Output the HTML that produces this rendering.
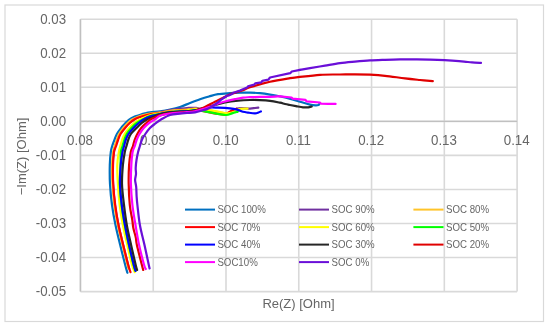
<!DOCTYPE html>
<html><head><meta charset="utf-8"><style>
html,body{margin:0;padding:0;background:#fff;}
body{width:550px;height:327px;overflow:hidden;}
svg{display:block;will-change:transform;}
text{font-family:"Liberation Sans",sans-serif;fill:#666666;}
</style></head><body>
<svg width="550" height="327" viewBox="0 0 550 327">
<rect x="0" y="0" width="550" height="327" fill="#fff"/>
<rect x="5" y="5" width="538.5" height="316.5" fill="none" stroke="#d9d9d9" stroke-width="1.2"/>

<g stroke="#d9d9d9" stroke-width="1.6"><line x1="80.45" y1="19.20" x2="80.45" y2="291.60"/><line x1="153.23" y1="19.20" x2="153.23" y2="291.60"/><line x1="226.00" y1="19.20" x2="226.00" y2="291.60"/><line x1="298.78" y1="19.20" x2="298.78" y2="291.60"/><line x1="371.55" y1="19.20" x2="371.55" y2="291.60"/><line x1="444.32" y1="19.20" x2="444.32" y2="291.60"/><line x1="517.10" y1="19.20" x2="517.10" y2="291.60"/><line x1="80.45" y1="19.20" x2="517.10" y2="19.20"/><line x1="80.45" y1="53.25" x2="517.10" y2="53.25"/><line x1="80.45" y1="87.30" x2="517.10" y2="87.30"/><line x1="80.45" y1="121.35" x2="517.10" y2="121.35"/><line x1="80.45" y1="155.40" x2="517.10" y2="155.40"/><line x1="80.45" y1="189.45" x2="517.10" y2="189.45"/><line x1="80.45" y1="223.50" x2="517.10" y2="223.50"/><line x1="80.45" y1="257.55" x2="517.10" y2="257.55"/><line x1="80.45" y1="291.60" x2="517.10" y2="291.60"/></g>
<g stroke="#c0c0c0" stroke-width="1.4"><line x1="80.45" y1="19.20" x2="80.45" y2="291.60"/><line x1="80.45" y1="121.35" x2="517.10" y2="121.35"/></g>
<g font-size="14"><text x="66.1" y="23.65" text-anchor="end" textLength="25.89" lengthAdjust="spacingAndGlyphs">0.03</text><text x="66.1" y="57.70" text-anchor="end" textLength="25.89" lengthAdjust="spacingAndGlyphs">0.02</text><text x="66.1" y="91.75" text-anchor="end" textLength="25.89" lengthAdjust="spacingAndGlyphs">0.01</text><text x="66.1" y="125.80" text-anchor="end" textLength="25.89" lengthAdjust="spacingAndGlyphs">0.00</text><text x="66.1" y="159.85" text-anchor="end" textLength="30.31" lengthAdjust="spacingAndGlyphs">-0.01</text><text x="66.1" y="193.90" text-anchor="end" textLength="30.31" lengthAdjust="spacingAndGlyphs">-0.02</text><text x="66.1" y="227.95" text-anchor="end" textLength="30.31" lengthAdjust="spacingAndGlyphs">-0.03</text><text x="66.1" y="262.00" text-anchor="end" textLength="30.31" lengthAdjust="spacingAndGlyphs">-0.04</text><text x="66.1" y="296.05" text-anchor="end" textLength="30.31" lengthAdjust="spacingAndGlyphs">-0.05</text></g>
<g font-size="14"><text x="80.05" y="144.9" text-anchor="middle" textLength="25.89" lengthAdjust="spacingAndGlyphs">0.08</text><text x="152.83" y="144.9" text-anchor="middle" textLength="25.89" lengthAdjust="spacingAndGlyphs">0.09</text><text x="225.60" y="144.9" text-anchor="middle" textLength="25.89" lengthAdjust="spacingAndGlyphs">0.10</text><text x="298.38" y="144.9" text-anchor="middle" textLength="24.90" lengthAdjust="spacingAndGlyphs">0.11</text><text x="371.15" y="144.9" text-anchor="middle" textLength="25.89" lengthAdjust="spacingAndGlyphs">0.12</text><text x="443.93" y="144.9" text-anchor="middle" textLength="25.89" lengthAdjust="spacingAndGlyphs">0.13</text><text x="516.70" y="144.9" text-anchor="middle" textLength="25.89" lengthAdjust="spacingAndGlyphs">0.14</text></g>
<text x="298.5" y="307.7" text-anchor="middle" font-size="13">Re(Z) [Ohm]</text>
<text transform="translate(25.8,156.5) rotate(-90)" text-anchor="middle" font-size="13">−Im(Z) [Ohm]</text>
<line x1="185" y1="209.60" x2="215" y2="209.60" stroke="#0070C0" stroke-width="2"/>
<text x="217.4" y="213.10" font-size="11" textLength="48.42" lengthAdjust="spacingAndGlyphs">SOC 100%</text>
<line x1="299" y1="209.60" x2="329" y2="209.60" stroke="#7030A0" stroke-width="2"/>
<text x="331.6" y="213.10" font-size="11" textLength="43.04" lengthAdjust="spacingAndGlyphs">SOC 90%</text>
<line x1="413.4" y1="209.60" x2="443.5" y2="209.60" stroke="#FFC42A" stroke-width="2"/>
<text x="446" y="213.10" font-size="11" textLength="43.04" lengthAdjust="spacingAndGlyphs">SOC 80%</text>
<line x1="185" y1="227.10" x2="215" y2="227.10" stroke="#FF0000" stroke-width="2"/>
<text x="217.4" y="230.60" font-size="11" textLength="43.04" lengthAdjust="spacingAndGlyphs">SOC 70%</text>
<line x1="299" y1="227.10" x2="329" y2="227.10" stroke="#FFFF00" stroke-width="2"/>
<text x="331.6" y="230.60" font-size="11" textLength="43.04" lengthAdjust="spacingAndGlyphs">SOC 60%</text>
<line x1="413.4" y1="227.10" x2="443.5" y2="227.10" stroke="#00FF00" stroke-width="2"/>
<text x="446" y="230.60" font-size="11" textLength="43.04" lengthAdjust="spacingAndGlyphs">SOC 50%</text>
<line x1="185" y1="244.60" x2="215" y2="244.60" stroke="#0000FF" stroke-width="2"/>
<text x="217.4" y="248.10" font-size="11" textLength="43.04" lengthAdjust="spacingAndGlyphs">SOC 40%</text>
<line x1="299" y1="244.60" x2="329" y2="244.60" stroke="#262626" stroke-width="2"/>
<text x="331.6" y="248.10" font-size="11" textLength="43.04" lengthAdjust="spacingAndGlyphs">SOC 30%</text>
<line x1="413.4" y1="244.60" x2="443.5" y2="244.60" stroke="#E00000" stroke-width="2"/>
<text x="446" y="248.10" font-size="11" textLength="43.04" lengthAdjust="spacingAndGlyphs">SOC 20%</text>
<line x1="185" y1="262.10" x2="215" y2="262.10" stroke="#FF00FF" stroke-width="2"/>
<text x="217.4" y="265.60" font-size="11" textLength="40.35" lengthAdjust="spacingAndGlyphs">SOC10%</text>
<line x1="299" y1="262.10" x2="329" y2="262.10" stroke="#6A0FD8" stroke-width="2"/>
<text x="331.6" y="265.60" font-size="11" textLength="37.66" lengthAdjust="spacingAndGlyphs">SOC 0%</text>
<g fill="none" stroke-width="2.2" stroke-linejoin="round" stroke-linecap="round">
<path stroke="#0070C0" d="M127.40,272.80 C127.03,271.50 126.40,269.63 125.20,265.00 C124.00,260.37 121.82,251.67 120.20,245.00 C118.58,238.33 116.87,231.67 115.50,225.00 C114.13,218.33 112.92,211.83 112.00,205.00 C111.08,198.17 110.37,190.67 110.00,184.00 C109.63,177.33 109.67,170.33 109.80,165.00 C109.93,159.67 110.40,155.17 110.80,152.00 C111.20,148.83 111.60,148.00 112.20,146.00 C112.80,144.00 113.62,142.00 114.40,140.00 C115.18,138.00 115.77,136.00 116.90,134.00 C118.03,132.00 120.15,129.42 121.20,128.00 C122.25,126.58 122.52,126.30 123.20,125.50 C123.88,124.70 124.50,124.03 125.30,123.20 C126.10,122.37 127.12,121.27 128.00,120.50 C128.88,119.73 129.72,119.15 130.60,118.60 C131.48,118.05 132.35,117.63 133.30,117.20 C134.25,116.77 135.13,116.42 136.30,116.00 C137.47,115.58 138.85,115.13 140.30,114.70 C141.75,114.27 143.38,113.80 145.00,113.40 C146.62,113.00 147.50,112.65 150.00,112.30 C152.50,111.95 156.67,111.75 160.00,111.30 C163.33,110.85 166.67,110.32 170.00,109.60 C173.33,108.88 176.67,108.10 180.00,107.00 C183.33,105.90 186.67,104.28 190.00,103.00 C193.33,101.72 196.83,100.38 200.00,99.30 C203.17,98.22 206.00,97.35 209.00,96.50 C212.00,95.65 214.50,94.75 218.00,94.20 C221.50,93.65 226.33,93.45 230.00,93.20 C233.67,92.95 236.67,92.80 240.00,92.70 C243.33,92.60 246.67,92.52 250.00,92.60 C253.33,92.68 256.67,92.87 260.00,93.20 C263.33,93.53 265.83,93.90 270.00,94.60 C274.17,95.30 280.00,96.22 285.00,97.40 C290.00,98.58 295.83,100.50 300.00,101.70 C304.17,102.90 307.42,103.98 310.00,104.60 C312.58,105.22 314.08,105.33 315.50,105.40 C316.92,105.47 317.83,105.27 318.50,105.00 C319.17,104.73 319.33,104.00 319.50,103.80"/>
<path stroke="#7030A0" d="M129.10,268.50 C128.95,267.97 129.18,269.17 128.20,265.30 C127.22,261.43 124.82,251.97 123.20,245.30 C121.58,238.63 119.87,231.97 118.50,225.30 C117.13,218.63 115.90,212.13 115.00,205.30 C114.10,198.47 113.48,190.97 113.10,184.30 C112.72,177.63 112.58,170.63 112.70,165.30 C112.82,159.97 113.37,155.47 113.80,152.30 C114.23,149.13 114.70,148.30 115.30,146.30 C115.90,144.30 116.67,142.30 117.40,140.30 C118.13,138.30 118.60,136.30 119.70,134.30 C120.80,132.30 122.54,130.13 124.00,128.30 C125.46,126.47 126.97,124.72 128.43,123.30 C129.90,121.88 131.18,120.80 132.80,119.80 C134.42,118.80 136.30,118.05 138.17,117.30 C140.03,116.55 141.87,115.84 143.99,115.30 C146.11,114.76 148.09,114.60 150.88,114.05 C153.66,113.50 157.51,112.68 160.70,112.00 C163.89,111.32 166.78,110.55 170.00,110.00 C173.22,109.45 177.17,109.03 180.00,108.70 C182.83,108.37 184.33,108.13 187.00,108.00 C189.67,107.87 193.00,107.57 196.00,107.90 C199.00,108.23 201.82,109.32 205.00,110.00 C208.18,110.68 211.56,111.42 215.10,112.00 C218.64,112.58 223.25,113.75 226.23,113.50 C229.22,113.25 230.73,111.38 233.03,110.50 C235.32,109.62 237.17,108.52 240.00,108.20 C242.83,107.88 247.50,108.63 250.00,108.60 C252.50,108.57 253.62,108.17 255.00,108.00 C256.38,107.83 257.75,107.67 258.30,107.60"/>
<path stroke="#FFC42A" d="M128.50,268.50 C128.35,267.92 128.58,268.92 127.60,265.00 C126.62,261.08 124.22,251.67 122.60,245.00 C120.98,238.33 119.27,231.67 117.90,225.00 C116.53,218.33 115.30,211.83 114.40,205.00 C113.50,198.17 112.88,190.67 112.50,184.00 C112.12,177.33 111.98,170.33 112.10,165.00 C112.22,159.67 112.77,155.17 113.20,152.00 C113.63,148.83 114.10,148.00 114.70,146.00 C115.30,144.00 116.07,142.00 116.80,140.00 C117.53,138.00 118.00,136.00 119.10,134.00 C120.20,132.00 121.95,129.83 123.40,128.00 C124.85,126.17 126.36,124.42 127.82,123.00 C129.29,121.58 130.57,120.50 132.19,119.50 C133.81,118.50 135.68,117.75 137.54,117.00 C139.41,116.25 141.25,115.55 143.37,115.00 C145.48,114.45 147.46,114.11 150.25,113.71 C153.04,113.31 156.83,113.08 160.13,112.60 C163.43,112.12 166.73,111.23 170.04,110.80 C173.35,110.37 177.17,110.20 180.00,110.00 C182.83,109.80 184.50,109.83 187.00,109.60 C189.50,109.37 192.00,108.62 195.00,108.60 C198.00,108.58 201.65,109.02 205.00,109.50 C208.35,109.98 211.71,110.87 215.07,111.50 C218.44,112.13 222.38,113.30 225.22,113.30 C228.05,113.30 229.94,112.13 232.07,111.50 C234.21,110.87 237.01,109.83 238.00,109.50"/>
<path stroke="#FF0000" d="M130.50,272.20 C130.12,271.00 129.42,269.53 128.20,265.00 C126.98,260.47 124.82,251.67 123.20,245.00 C121.58,238.33 119.83,231.67 118.50,225.00 C117.17,218.33 116.08,211.83 115.20,205.00 C114.32,198.17 113.57,190.67 113.20,184.00 C112.83,177.33 112.87,170.33 113.00,165.00 C113.13,159.67 113.48,155.17 114.00,152.00 C114.52,148.83 115.43,148.00 116.10,146.00 C116.77,144.00 117.27,142.00 118.00,140.00 C118.73,138.00 119.32,136.00 120.50,134.00 C121.68,132.00 123.56,129.83 125.10,128.00 C126.64,126.17 128.08,124.50 129.75,123.00 C131.43,121.50 133.43,120.00 135.16,119.00 C136.89,118.00 137.63,117.78 140.12,117.00 C142.60,116.22 146.74,114.94 150.05,114.30 C153.37,113.67 156.68,113.65 160.00,113.20 C163.32,112.75 166.67,112.02 170.00,111.60 C173.33,111.18 177.17,110.90 180.00,110.70 C182.83,110.50 184.50,110.67 187.00,110.40 C189.50,110.13 192.25,108.95 195.00,109.10 C197.75,109.25 200.50,110.62 203.50,111.30 C206.50,111.98 209.65,112.65 213.00,113.20 C216.35,113.75 221.10,114.63 223.60,114.60 C226.10,114.57 226.60,113.70 228.00,113.00 C229.40,112.30 230.55,111.13 232.00,110.40 C233.45,109.67 235.92,108.90 236.70,108.60"/>
<path stroke="#FFFF00" d="M134.70,272.20 C134.25,271.00 133.23,269.53 132.00,265.00 C130.77,260.47 128.82,251.67 127.30,245.00 C125.78,238.33 124.17,231.67 122.90,225.00 C121.63,218.33 120.53,211.83 119.70,205.00 C118.87,198.17 118.30,190.67 117.90,184.00 C117.50,177.33 117.13,170.33 117.30,165.00 C117.47,159.67 118.40,155.17 118.90,152.00 C119.40,148.83 119.77,148.00 120.30,146.00 C120.83,144.00 121.38,142.00 122.10,140.00 C122.82,138.00 123.42,136.00 124.60,134.00 C125.78,132.00 127.56,129.83 129.20,128.00 C130.84,126.17 132.45,124.50 134.44,123.00 C136.42,121.50 138.50,120.28 141.12,119.00 C143.73,117.72 146.95,116.24 150.10,115.31 C153.25,114.37 156.68,114.03 160.00,113.40 C163.32,112.77 166.67,111.97 170.00,111.50 C173.33,111.03 177.17,110.80 180.00,110.60 C182.83,110.40 184.50,110.57 187.00,110.30 C189.50,110.03 191.50,109.08 195.00,109.00 C198.50,108.92 204.17,109.37 208.00,109.80 C211.83,110.23 214.83,111.02 218.00,111.60 C221.17,112.18 224.50,113.20 227.00,113.30 C229.50,113.40 231.42,112.62 233.00,112.20 C234.58,111.78 235.33,111.37 236.50,110.80 C237.67,110.23 238.15,109.17 240.00,108.80 C241.85,108.43 246.33,108.63 247.60,108.60"/>
<path stroke="#00FF00" d="M135.40,270.80 C135.10,269.83 134.68,269.30 133.60,265.00 C132.52,260.70 130.37,251.67 128.90,245.00 C127.43,238.33 126.02,231.67 124.80,225.00 C123.58,218.33 122.43,211.83 121.60,205.00 C120.77,198.17 119.98,190.67 119.80,184.00 C119.62,177.33 120.32,170.33 120.50,165.00 C120.68,159.67 120.57,155.17 120.90,152.00 C121.23,148.83 121.93,148.00 122.50,146.00 C123.07,144.00 123.60,142.00 124.30,140.00 C125.00,138.00 125.52,136.00 126.70,134.00 C127.88,132.00 129.72,129.83 131.40,128.00 C133.08,126.17 134.87,124.45 136.80,123.00 C138.73,121.55 140.80,120.47 143.00,119.30 C145.20,118.13 147.17,116.88 150.00,116.00 C152.83,115.12 156.67,114.65 160.00,114.00 C163.33,113.35 166.67,112.53 170.00,112.10 C173.33,111.67 177.17,111.55 180.00,111.40 C182.83,111.25 184.50,111.40 187.00,111.20 C189.50,111.00 192.00,110.17 195.00,110.20 C198.00,110.23 201.67,110.88 205.00,111.40 C208.33,111.92 211.50,112.70 215.00,113.30 C218.50,113.90 223.17,114.98 226.00,115.00 C228.83,115.02 230.03,113.97 232.00,113.40 C233.97,112.83 236.83,111.90 237.80,111.60"/>
<path stroke="#0000FF" d="M135.60,270.90 C135.30,269.92 134.88,269.32 133.80,265.00 C132.72,260.68 130.57,251.67 129.10,245.00 C127.63,238.33 126.22,231.67 125.00,225.00 C123.78,218.33 122.63,211.83 121.80,205.00 C120.97,198.17 120.18,190.67 120.00,184.00 C119.82,177.33 120.28,170.33 120.70,165.00 C121.12,159.67 121.93,155.17 122.50,152.00 C123.07,148.83 123.57,148.00 124.10,146.00 C124.63,144.00 124.97,142.00 125.70,140.00 C126.43,138.00 127.20,136.00 128.50,134.00 C129.80,132.00 131.78,129.83 133.50,128.00 C135.22,126.17 136.97,124.50 138.80,123.00 C140.63,121.50 142.63,120.08 144.50,119.00 C146.37,117.92 147.42,117.32 150.00,116.50 C152.58,115.68 156.67,114.82 160.00,114.10 C163.33,113.38 166.67,112.63 170.00,112.20 C173.33,111.77 177.17,111.65 180.00,111.50 C182.83,111.35 184.50,111.50 187.00,111.30 C189.50,111.10 191.67,110.90 195.00,110.30 C198.33,109.70 203.17,108.15 207.00,107.70 C210.83,107.25 214.17,107.50 218.00,107.60 C221.83,107.70 226.67,107.92 230.00,108.30 C233.33,108.68 235.83,109.32 238.00,109.90 C240.17,110.48 241.33,111.35 243.00,111.80 C244.67,112.25 246.00,112.35 248.00,112.60 C250.00,112.85 253.25,113.32 255.00,113.30 C256.75,113.28 257.52,112.82 258.50,112.50 C259.48,112.18 260.50,111.58 260.90,111.40"/>
<path stroke="#262626" d="M137.10,270.00 C136.87,269.17 136.70,269.17 135.70,265.00 C134.70,260.83 132.58,251.67 131.10,245.00 C129.62,238.33 127.98,231.67 126.80,225.00 C125.62,218.33 124.80,211.83 124.00,205.00 C123.20,198.17 122.18,190.67 122.00,184.00 C121.82,177.33 122.43,170.33 122.90,165.00 C123.37,159.67 124.20,155.17 124.80,152.00 C125.40,148.83 125.93,148.00 126.50,146.00 C127.07,144.00 127.47,142.00 128.20,140.00 C128.93,138.00 129.52,136.00 130.90,134.00 C132.28,132.00 134.68,129.83 136.50,128.00 C138.32,126.17 139.93,124.50 141.80,123.00 C143.67,121.50 146.00,119.92 147.70,119.00 C149.40,118.08 149.95,118.26 152.00,117.46 C154.05,116.66 157.00,115.06 160.00,114.20 C163.00,113.34 166.67,112.72 170.00,112.30 C173.33,111.88 177.17,111.83 180.00,111.70 C182.83,111.57 184.50,111.70 187.00,111.50 C189.50,111.30 192.00,111.17 195.00,110.50 C198.00,109.83 201.67,108.42 205.00,107.50 C208.33,106.58 211.67,105.83 215.00,105.00 C218.33,104.17 221.17,103.22 225.00,102.50 C228.83,101.78 233.83,101.12 238.00,100.70 C242.17,100.28 246.33,100.10 250.00,100.00 C253.67,99.90 256.67,99.97 260.00,100.10 C263.33,100.23 266.67,100.37 270.00,100.80 C273.33,101.23 277.50,102.17 280.00,102.70 C282.50,103.23 283.33,103.62 285.00,104.00 C286.67,104.38 288.17,104.65 290.00,105.00 C291.83,105.35 293.83,105.72 296.00,106.10 C298.17,106.48 301.17,107.08 303.00,107.30 C304.83,107.52 305.92,107.43 307.00,107.40 C308.08,107.37 308.72,107.25 309.50,107.10 C310.28,106.95 311.33,106.60 311.70,106.50"/>
<path stroke="#E00000" d="M143.20,270.00 C142.98,269.17 142.95,269.17 141.90,265.00 C140.85,260.83 137.90,249.50 136.90,245.00 C135.90,240.50 136.18,239.67 135.90,238.00 C135.62,236.33 135.55,236.33 135.20,235.00 C134.85,233.67 134.17,231.50 133.80,230.00 C133.43,228.50 133.25,227.67 133.00,226.00 C132.75,224.33 132.83,223.50 132.30,220.00 C131.77,216.50 130.40,211.00 129.80,205.00 C129.20,199.00 128.82,190.67 128.70,184.00 C128.58,177.33 128.75,170.33 129.10,165.00 C129.45,159.67 130.15,155.17 130.80,152.00 C131.45,148.83 132.37,148.00 133.00,146.00 C133.63,144.00 133.88,142.00 134.60,140.00 C135.32,138.00 136.20,136.00 137.30,134.00 C138.40,132.00 139.68,129.83 141.20,128.00 C142.72,126.17 144.85,124.44 146.40,123.00 C147.95,121.56 149.07,120.27 150.50,119.34 C151.93,118.41 153.42,118.06 155.00,117.40 C156.58,116.74 157.50,116.08 160.00,115.40 C162.50,114.72 166.67,113.77 170.00,113.30 C173.33,112.83 177.17,112.80 180.00,112.60 C182.83,112.40 184.50,112.37 187.00,112.10 C189.50,111.83 192.17,111.78 195.00,111.00 C197.83,110.22 201.50,108.52 204.00,107.40 C206.50,106.28 208.17,105.23 210.00,104.30 C211.83,103.37 213.33,102.63 215.00,101.80 C216.67,100.97 218.50,100.05 220.00,99.30 C221.50,98.55 222.67,97.97 224.00,97.30 C225.33,96.63 226.67,95.92 228.00,95.30 C229.33,94.68 229.50,94.45 232.00,93.60 C234.50,92.75 240.00,91.25 243.00,90.20 C246.00,89.15 245.50,88.70 250.00,87.30 C254.50,85.90 263.33,83.32 270.00,81.80 C276.67,80.28 285.33,78.97 290.00,78.20 C294.67,77.43 293.00,77.77 298.00,77.20 C303.00,76.63 313.00,75.25 320.00,74.80 C327.00,74.35 334.17,74.58 340.00,74.50 C345.83,74.42 350.00,74.27 355.00,74.30 C360.00,74.33 365.00,74.45 370.00,74.70 C375.00,74.95 379.17,75.18 385.00,75.80 C390.83,76.42 399.17,77.70 405.00,78.40 C410.83,79.10 415.37,79.53 420.00,80.00 C424.63,80.47 430.67,81.00 432.80,81.20"/>
<path stroke="#FF00FF" d="M145.80,269.00 C145.52,268.33 145.22,269.00 144.10,265.00 C142.98,261.00 140.53,251.67 139.10,245.00 C137.67,238.33 136.62,231.67 135.50,225.00 C134.38,218.33 133.17,211.83 132.40,205.00 C131.63,198.17 131.08,190.67 130.90,184.00 C130.72,177.33 131.02,170.33 131.30,165.00 C131.58,159.67 132.02,155.17 132.60,152.00 C133.18,148.83 134.13,148.00 134.80,146.00 C135.47,144.00 135.82,142.00 136.60,140.00 C137.38,138.00 138.32,136.00 139.50,134.00 C140.68,132.00 142.10,129.83 143.70,128.00 C145.30,126.17 147.22,124.43 149.10,123.00 C150.98,121.57 153.18,120.62 155.00,119.40 C156.82,118.18 157.50,116.68 160.00,115.70 C162.50,114.72 166.67,114.00 170.00,113.50 C173.33,113.00 177.17,112.92 180.00,112.70 C182.83,112.48 184.50,112.43 187.00,112.20 C189.50,111.97 192.00,111.92 195.00,111.30 C198.00,110.68 202.50,109.23 205.00,108.50 C207.50,107.77 207.83,107.73 210.00,106.90 C212.17,106.07 215.50,104.40 218.00,103.50 C220.50,102.60 222.17,102.22 225.00,101.50 C227.83,100.78 232.00,99.85 235.00,99.20 C238.00,98.55 240.50,97.93 243.00,97.60 C245.50,97.27 246.67,97.32 250.00,97.20 C253.33,97.08 259.67,96.97 263.00,96.90 C266.33,96.83 267.17,96.90 270.00,96.80 C272.83,96.70 278.33,96.38 280.00,96.30"/>
<polyline stroke="#FF00FF" points="280.0,96.3 291.5,97.5 292.5,98.6 305.5,99.9 306.5,101.4 319.8,102.5 320.8,103.6 328.0,103.9 335.6,103.9"/>
<path stroke="#6A0FD8" d="M149.60,268.40 C149.47,267.83 149.65,268.90 148.80,265.00 C147.95,261.10 145.98,251.67 144.50,245.00 C143.02,238.33 141.08,231.67 139.90,225.00 C138.72,218.33 137.95,209.83 137.40,205.00 C136.85,200.17 136.80,199.00 136.60,196.00 C136.40,193.00 136.45,189.67 136.20,187.00 C135.95,184.33 135.13,182.17 135.10,180.00 C135.07,177.83 135.90,176.00 136.00,174.00 C136.10,172.00 135.62,170.33 135.70,168.00 C135.78,165.67 136.10,162.67 136.50,160.00 C136.90,157.33 137.53,154.33 138.10,152.00 C138.67,149.67 139.28,148.00 139.90,146.00 C140.52,144.00 140.90,142.00 141.80,140.00 C142.70,138.00 143.95,136.00 145.30,134.00 C146.65,132.00 148.20,129.76 149.90,128.00 C151.60,126.24 153.58,124.89 155.50,123.44 C157.42,121.99 158.98,120.71 161.40,119.30 C163.82,117.89 166.90,115.95 170.00,115.00 C173.10,114.05 177.17,113.93 180.00,113.60 C182.83,113.27 184.50,113.22 187.00,113.00 C189.50,112.78 192.33,112.75 195.00,112.30 C197.67,111.85 200.58,111.03 203.00,110.30 C205.42,109.57 207.20,109.08 209.50,107.90 C211.80,106.72 214.72,104.65 216.80,103.20 C218.88,101.75 220.55,100.25 222.00,99.20 C223.45,98.15 224.92,97.28 225.50,96.90"/>
<polyline stroke="#6A0FD8" points="225.5,96.9 227.0,95.6 229.2,95.3 232.0,94.0 233.0,92.9 235.0,92.3 240.0,90.6 247.1,87.6 248.0,86.3 254.2,84.6 255.2,83.3 261.3,82.4 262.3,80.8 268.4,79.7 270.0,77.5 290.2,73.2 291.8,71.5 300.0,69.9"/>
<path stroke="#6A0FD8" d="M300.00,69.90 C301.67,69.62 305.83,68.92 310.00,68.20 C314.17,67.48 320.00,66.45 325.00,65.60 C330.00,64.75 335.00,63.77 340.00,63.10 C345.00,62.43 350.00,62.05 355.00,61.60 C360.00,61.15 365.00,60.70 370.00,60.40 C375.00,60.10 380.00,59.97 385.00,59.80 C390.00,59.63 394.67,59.48 400.00,59.40 C405.33,59.32 412.00,59.27 417.00,59.30 C422.00,59.33 425.42,59.45 430.00,59.60 C434.58,59.75 439.67,59.95 444.50,60.20 C449.33,60.45 455.42,60.83 459.00,61.10 C462.58,61.37 463.83,61.58 466.00,61.80 C468.17,62.02 469.50,62.22 472.00,62.40 C474.50,62.58 479.50,62.82 481.00,62.90"/>
</g>
</svg></body></html>
